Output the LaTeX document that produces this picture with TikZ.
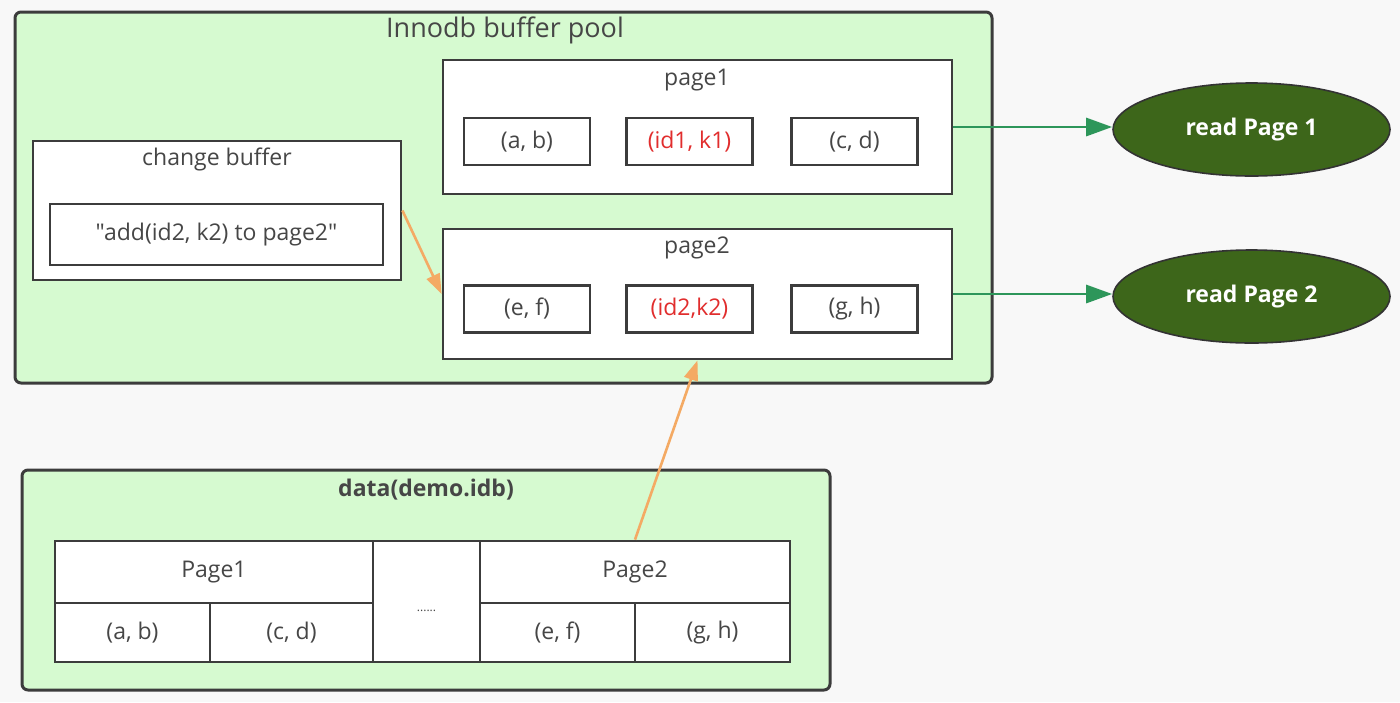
\documentclass[tikz,border=0pt]{standalone}
\usepackage{fontspec}
\setmainfont{Open Sans}[Ligatures=TeXOff]
\usetikzlibrary{arrows.meta,shapes.geometric}
\definecolor{poolgreen}{RGB}{214,250,208}
\definecolor{boxline}{RGB}{60,60,60}
\definecolor{txtgray}{RGB}{70,70,70}
\definecolor{keyred}{RGB}{225,45,45}
\definecolor{readgreen}{RGB}{61,102,26}
\definecolor{flowgreen}{RGB}{45,150,90}
\definecolor{mergeorange}{RGB}{244,170,100}
\definecolor{bggray}{RGB}{248,248,248}

\begin{document}
\begin{tikzpicture}[x=0.5pt, y=-0.5pt, font=\fontsize{11.5}{14}\selectfont, text=txtgray,
  area/.style={draw=boxline, line width=1.5pt, fill=poolgreen, rounded corners=3pt, inner sep=0pt},
  pagebox/.style={draw=boxline, line width=1.4pt, fill=white, inner sep=0pt},
  cell/.style={pagebox, minimum width=63pt, minimum height=23.5pt},
  readnode/.style={ellipse, draw=black!80, line width=0.8pt, fill=readgreen, text=white, font=\fontsize{11.5}{14}\selectfont\bfseries, minimum width=138.5pt, minimum height=46.5pt},
  fetch/.style={draw=flowgreen, line width=1.4pt, -{Triangle[length=13pt,width=9pt]}},
  merge/.style={draw=mergeorange, line width=1.3pt, -{Triangle[length=10pt,width=7pt]}}]
	\fill[bggray] (0,0) rectangle (1400,702);
	% buffer pool
	\node[area, minimum width=488.5pt, minimum height=185.5pt] (pool) at (503.5,197.5) {};
	\node[font=\fontsize{13.5}{16}\selectfont] (pooltitle) at (505,30) {Innodb buffer pool};
	\node[pagebox, minimum width=254.5pt, minimum height=67pt] (page1) at (697.5,127) {};
	\node (page1title) at (697,80) {page1};
	\node[cell] (c11) at (527,141.5) {(a, b)};
	\node[cell, text=keyred] (c12) at (689.5,141.5) {(id1, k1)};
	\node[cell] (c13) at (854.5,141.5) {(c, d)};
	\node[pagebox, minimum width=254.5pt, minimum height=65pt] (page2) at (697.5,294) {};
	\node (page2title) at (697,248) {page2};
	\node[cell] (c21) at (527,309) {(e, f)};
	\node[cell, text=keyred] (c22) at (689.5,309) {(id2,k2)};
	\node[cell] (c23) at (854.5,309) {(g, h)};
	\node[pagebox, minimum width=184pt, minimum height=69.5pt] (chbuf) at (217,210.5) {};
	\node (chbuftitle) at (217,159) {change buffer};
	\node[pagebox, minimum width=166.5pt, minimum height=30.5pt] (chentry) at (216.5,234.5) {"add(id2, k2) to page2"};
	% reads
	\node[readnode] (read1) at (1251.5,129.5) {read Page 1};
	\node[readnode] (read2) at (1251.5,296.5) {read Page 2};
	% data file
	\node[area, minimum width=404pt, minimum height=110pt] (data) at (426,580) {};
	\node[font=\fontsize{11.5}{14}\selectfont\bfseries] (datatitle) at (426,490) {data(demo.idb)};
	\node[pagebox, minimum width=159pt, minimum height=31pt] (p1head) at (214,572) {Page1};
	\node[pagebox, minimum width=77.5pt, minimum height=29.5pt] (p1a) at (132.5,632.5) {(a, b)};
	\node[pagebox, minimum width=81.5pt, minimum height=29.5pt] (p1b) at (291.5,632.5) {(c, d)};
	\node[pagebox, minimum width=53.5pt, minimum height=60.5pt, font=\fontsize{6}{7}\selectfont, text height=10pt, text depth=0pt] (gap) at (426.5,601.5) {......};
	\node[pagebox, minimum width=155pt, minimum height=31pt] (p2head) at (635,572) {Page2};
	\node[pagebox, minimum width=77.5pt, minimum height=29.5pt] (p2a) at (557.5,632.5) {(e, f)};
	\node[pagebox, minimum width=77.5pt, minimum height=29.5pt] (p2b) at (712.5,632.5) {(g, h)};
	% connectors
	\draw[fetch] (page1.east) -- (page1.east -| read1.west);
	\draw[fetch] (page2.east) -- (page2.east -| read2.west);
	\draw[merge] (chbuf.east) -- (page2.west);
	\draw[merge] (p2head.north) -- (page2.south);
\end{tikzpicture}
\end{document}
